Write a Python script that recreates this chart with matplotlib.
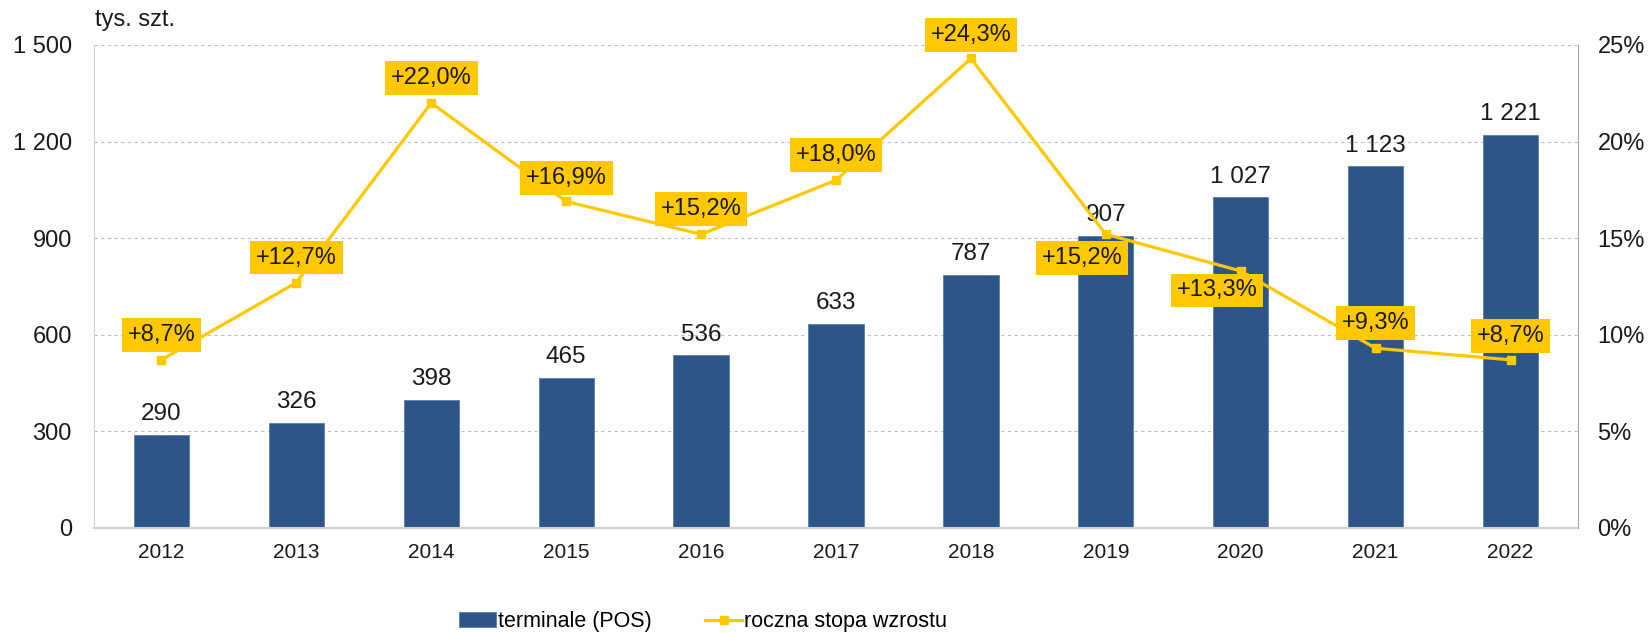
import matplotlib.pyplot as plt
import matplotlib.ticker as mticker
import numpy as np

plt.rcParams['font.family'] = ['Liberation Sans', 'DejaVu Sans']

# Data
years = ['2012', '2013', '2014', '2015', '2016', '2017', '2018', '2019', '2020', '2021', '2022']
terminals = [290, 326, 398, 465, 536, 633, 787, 907, 1027, 1123, 1221]
growth = [8.7, 12.7, 22.0, 16.9, 15.2, 18.0, 24.3, 15.2, 13.3, 9.3, 8.7]

bar_color = '#2E5587'
yellow = '#FFC800'

def fmt_thousands(v, pos=None):
    return '{:,.0f}'.format(v).replace(',', ' ')

fig = plt.figure(figsize=(16.52, 6.33), dpi=100)
ax = fig.add_axes([0.0569, 0.166, 0.8983, 0.763])
x = np.arange(len(years))

ax.bar(x, terminals, width=0.41, color=bar_color, edgecolor='#5B7DB0', linewidth=0.6,
       zorder=2, label='terminale (POS)')
for xi, v in zip(x, terminals):
    ax.annotate(fmt_thousands(v), (xi, v), xytext=(0, 7), textcoords='offset points',
                ha='center', va='bottom', fontsize=17.5, color='#1a1a1a')

ax.set_xlim(-0.5, len(years) - 0.5)
ax.set_ylim(0, 1500)
ax.set_yticks(np.arange(0, 1501, 300))
ax.yaxis.set_major_formatter(mticker.FuncFormatter(fmt_thousands))
ax.set_xticks(x)
ax.set_xticklabels(years)
ax.tick_params(axis='y', length=0, pad=16, labelsize=17, colors='#1a1a1a')
ax.tick_params(axis='x', length=0, pad=11, labelsize=15, colors='#1a1a1a')
ax.grid(axis='y', color='#BFBFBF', linestyle=(0, (3, 3)), linewidth=0.8, zorder=0)
ax.set_axisbelow(True)
ax.spines['top'].set_visible(False)
ax.spines['left'].set_color('#D0D0D0')
ax.spines['bottom'].set_color('#D0D0D0')
ax.spines['bottom'].set_linewidth(1.5)
ax.spines['right'].set_visible(False)

ax2 = ax.twinx()
ax2.set_ylim(0, 25)
ax2.set_yticks(np.arange(0, 26, 5))
ax2.yaxis.set_major_formatter(mticker.FuncFormatter(lambda v, p: '{:.0f}%'.format(v)))
ax2.tick_params(axis='y', length=0, pad=14, labelsize=17, colors='#1a1a1a')
ax2.spines['top'].set_visible(False)
ax2.spines['left'].set_visible(False)
ax2.spines['bottom'].set_visible(False)
ax2.spines['right'].set_color('#A6A6A6')
ax2.plot(x, growth, color=yellow, linewidth=2.3, marker='s', markersize=5.5,
         zorder=3, label='roczna stopa wzrostu')

# label offsets in points (above the point, except 2019 and 2020)
offsets = [(0, 18), (0, 18), (0, 18), (0, 17), (0, 18), (0, 18), (0, 17),
           (-17, -17), (-17, -14), (0, 18), (0, 17)]
for xi, g, off in zip(x, growth, offsets):
    ax2.annotate('+{:.1f}%'.format(g).replace('.', ','), (xi, g), xytext=off,
                 textcoords='offset points', ha='center', va='center', fontsize=17,
                 color='#1a1a1a', zorder=5,
                 bbox=dict(boxstyle='square,pad=0.25', fc=yellow, ec='none'))

fig.text(0.0575, 0.968, 'tys. szt.', ha='left', va='center', fontsize=17, color='#1a1a1a')

h1, l1 = ax.get_legend_handles_labels()
h2, l2 = ax2.get_legend_handles_labels()
fig.legend(h1 + h2, l1 + l2, loc='center', bbox_to_anchor=(0.4256, 0.018), ncol=2,
           frameon=False, fontsize=15.5, handlelength=1.7, handletextpad=0.1,
           columnspacing=2.5)

fig.savefig('out.png', dpi=100)
